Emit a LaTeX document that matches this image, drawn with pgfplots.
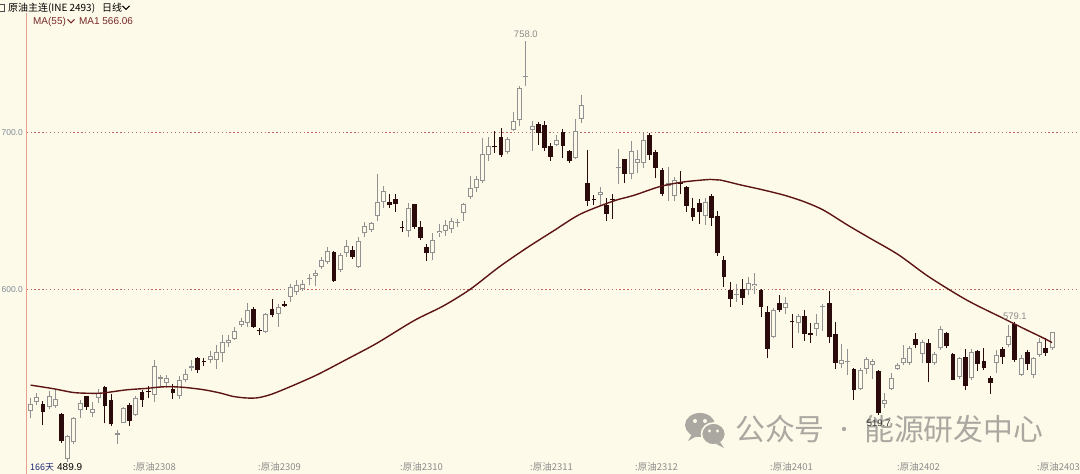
\documentclass[border=0pt]{standalone}
\usepackage{pgfplots}
\pgfplotsset{compat=1.18}
\usepackage{pgfplotstable}
\usepackage{fontspec}
\setmainfont{Liberation Sans}
\newfontfamily\cjk{Noto Sans CJK SC}
\definecolor{bg}{RGB}{254,250,233}
\definecolor{dk}{RGB}{42,10,10}
\definecolor{upc}{RGB}{145,145,145}
\definecolor{ma}{RGB}{92,20,20}
\definecolor{gridc}{RGB}{195,100,100}
\definecolor{axc}{RGB}{232,160,145}
\definecolor{tickc}{RGB}{125,138,150}
\definecolor{lab}{RGB}{140,140,140}
\definecolor{wm}{RGB}{170,168,160}
\definecolor{hdr}{RGB}{120,40,40}
\definecolor{dblue}{RGB}{30,40,120}

\pgfplotstableread{
i o h l c
1 522.8 530.8 518.2 527.0
2 528.3 534.0 526.6 531.5
4 525.1 535.0 523.9 531.9
5 526.0 536.1 524.5 530.2
7 491.8 507.0 489.9 506.6
8 503.0 518.6 501.3 518.2
9 523.0 529.8 518.2 527.7
11 521.3 528.5 518.8 523.9
12 530.8 536.7 527.7 534.0
15 507.2 510.4 501.3 508.3
16 515.0 525.1 514.6 524.5
18 519.9 531.9 519.2 530.8
21 532.9 555.1 528.1 550.9
22 543.2 545.6 537.2 543.8
23 540.3 545.6 537.2 543.5
25 531.9 544.5 530.2 542.4
26 542.4 549.2 540.8 546.2
27 549.8 555.1 547.7 550.9
30 555.1 561.0 553.0 557.8
31 555.1 564.6 549.2 560.4
32 559.7 570.9 554.0 566.7
33 565.6 570.9 563.5 567.7
34 568.4 576.2 567.8 573.6
35 577.2 581.5 576.2 580.0
36 578.3 591.3 576.2 586.7
39 573.0 585.0 572.0 584.2
41 584.6 590.5 576.2 588.8
43 595.2 603.6 592.0 601.5
44 598.3 605.7 596.2 602.5
45 600.0 605.7 598.9 603.2
46 606.3 609.9 602.5 607.4
47 608.4 612.4 602.1 610.6
48 614.1 620.5 613.1 618.8
49 617.7 627.2 616.2 624.7
51 612.0 623.0 611.0 622.0
52 623.0 631.4 620.5 627.9
54 614.1 633.5 613.7 631.0
55 635.7 642.6 633.1 640.1
56 637.8 643.0 636.3 642.2
57 646.8 673.6 643.7 655.9
58 655.9 665.8 652.1 662.7
62 637.4 655.3 633.5 652.1
66 623.0 635.7 618.8 631.6
67 635.9 641.6 633.1 637.4
68 637.0 644.0 634.0 641.0
69 638.4 645.5 636.0 643.6
70 642.3 645.0 640.0 642.9
71 648.9 655.2 643.6 654.2
72 659.0 672.1 657.4 664.7
73 664.3 672.5 662.0 670.0
74 669.0 696.4 668.0 686.3
75 685.8 696.8 682.0 691.1
78 687.5 697.0 686.5 696.0
79 701.7 712.8 701.0 707.4
80 708.0 729.7 703.8 728.0
81 735.0 758.0 729.7 735.6
82 701.3 707.0 688.4 704.2
86 692.2 698.0 691.0 695.3
89 683.7 708.6 682.7 701.0
90 708.6 723.8 705.9 717.1
93 659.9 665.0 653.0 662.2
96 677.1 689.6 666.8 677.7
98 673.6 694.3 670.0 688.0
99 680.6 689.0 674.0 683.3
100 680.6 699.6 677.4 695.4
104 665.8 677.9 656.3 668.0
105 659.5 671.5 656.3 669.4
110 646.8 658.0 641.1 655.9
115 596.3 603.6 592.0 596.9
117 599.4 607.8 596.2 604.0
118 601.9 610.3 597.3 603.2
121 569.8 587.8 568.8 586.7
123 587.8 595.1 584.6 591.0
125 578.7 584.6 571.9 582.9
128 574.5 584.2 570.2 578.3
129 588.9 590.9 573.6 589.5
132 552.3 565.2 549.8 555.1
133 553.7 561.8 545.6 554.3
135 536.5 549.8 535.6 548.7
136 549.1 556.7 546.2 555.7
137 551.9 555.5 542.8 554.2
139 527.2 534.0 524.4 529.7
140 536.5 546.6 536.1 543.5
141 549.4 552.9 548.7 551.9
142 553.0 564.6 551.9 556.1
143 553.0 563.9 551.9 562.9
145 558.9 567.7 552.9 566.7
147 553.4 560.3 551.9 558.9
148 562.4 576.6 561.4 574.5
151 544.1 557.2 542.8 556.1
153 543.5 561.8 542.4 560.3
157 553.0 561.4 546.6 558.2
159 564.6 577.2 563.5 570.3
161 545.6 558.2 544.5 556.1
163 545.6 557.2 543.5 556.1
164 558.2 568.8 557.2 566.7
166 562.4 573.0 561.4 572.6
}\up

\pgfplotstableread{
i o h l c
3 527.0 528.7 513.3 522.0
6 520.7 521.3 502.3 503.4
10 531.9 532.3 523.4 524.9
13 537.8 538.6 514.6 525.6
14 529.8 533.6 512.9 514.0
17 526.6 527.7 512.9 516.1
19 534.4 536.1 525.1 529.8
20 535.2 538.2 530.8 534.6
24 536.7 539.9 530.2 534.0
28 556.1 557.2 546.6 548.8
29 554.1 556.1 551.3 553.5
37 587.3 588.8 575.1 576.2
38 573.9 575.1 570.9 573.3
40 587.3 594.1 582.1 583.5
42 590.9 592.6 588.8 589.4
50 623.6 624.3 604.6 605.3
53 625.1 627.9 619.4 620.5
59 655.9 660.6 651.7 653.8
60 657.8 661.0 649.0 654.2
61 639.5 643.7 636.3 638.8
63 654.2 654.6 638.4 639.5
64 639.9 643.3 631.6 632.7
65 627.2 628.9 617.9 623.0
76 691.0 700.6 686.9 690.4
77 696.8 702.5 684.5 685.8
83 705.3 706.5 692.0 699.6
84 704.4 707.0 688.0 690.1
85 691.1 693.0 682.0 684.4
87 700.2 702.0 683.5 691.6
88 688.0 689.0 680.5 681.6
91 667.9 689.0 653.1 656.3
92 657.7 660.0 654.0 657.1
94 653.8 658.4 643.6 647.9
95 657.7 660.5 644.7 657.1
97 682.7 683.3 667.9 673.6
101 698.5 699.6 682.1 685.4
102 687.3 689.0 671.1 677.0
103 676.0 677.4 659.5 661.0
106 668.6 675.3 660.6 667.3
107 665.2 665.8 649.0 653.2
108 652.1 658.4 643.7 645.8
109 655.3 657.4 641.6 649.0
111 659.5 661.0 640.5 645.4
112 646.4 650.0 621.5 623.0
113 618.4 621.5 601.5 607.8
114 599.8 604.6 588.8 594.1
116 600.0 606.8 589.9 594.5
119 599.8 600.4 582.5 588.8
120 585.7 589.3 556.1 561.8
122 591.0 596.2 585.7 586.7
124 579.7 584.6 562.5 578.9
126 583.1 586.7 567.3 571.5
127 572.4 578.3 566.0 570.9
130 591.6 599.0 566.0 569.4
131 571.5 579.3 549.2 553.0
134 549.1 549.8 529.7 535.6
138 548.1 548.7 519.7 521.3
144 568.1 571.9 562.4 564.6
146 566.0 568.1 540.7 553.4
149 572.0 573.0 562.4 563.9
150 558.9 559.3 542.0 542.4
152 556.7 561.8 535.6 538.6
154 561.0 561.4 547.7 552.3
155 554.4 562.4 548.7 549.8
156 543.5 544.5 533.5 540.3
158 561.8 563.5 552.5 556.7
160 577.8 579.1 554.0 555.1
162 559.9 561.4 548.7 552.5
165 562.9 568.8 557.6 559.3
}\down

\begin{document}
\begin{tikzpicture}[x=1bp,y=1bp]
\fill[bg] (0,0) rectangle (1080,474);
\useasboundingbox (0,0) rectangle (1080,474);
% watermark (under the chart)
\fill[wm] (700,49) ellipse [x radius=15, y radius=12];
\fill[wm] (692,40) -- (688,33) -- (697,38) -- cycle;
\fill[wm, draw=bg, line width=1.6bp] (713.5,40) ellipse [x radius=12, y radius=11];
\fill[wm] (720,32) -- (724,26) -- (716,30) -- cycle;
\fill[bg] (695,53) circle (2); \fill[bg] (705,53) circle (2);
\fill[bg] (709.5,43) circle (1.7); \fill[bg] (717.5,43) circle (1.7);
\node[anchor=west, inner sep=0, text=wm, font=\cjk\fontsize{30}{32}\selectfont] at (735,45) {公众号};
\fill[wm] (844,45) circle (2.2);
\node[anchor=west, inner sep=0, text=wm, font=\cjk\fontsize{30}{32}\selectfont] at (864,45) {能源研发中心};
\begin{axis}[
  at={(43,0)}, anchor=south west, scale only axis,
  width=1052bp, height=461bp,
  xmin=0.354, xmax=170.3, ymin=482.4, ymax=776.0,
  axis x line=none, axis y line*=left,
  y axis line style={draw=axc, line width=1.6bp},
  xtick=\empty,
  ytick={600,700}, yticklabels={600.0,700.0},
  major tick length=0pt,
  yticklabel style={font=\fontsize{8.5}{10}\selectfont, text=tickc, xshift=-0.3bp},
  ymajorgrids,
  major grid style={draw=gridc, line width=0.9bp, dash pattern=on 1.3bp off 2.6bp},
]
% wicks
\addplot[draw=none, mark=none, forget plot, error bars/.cd, y dir=plus, y explicit, error mark=none,
  error bar style={draw=upc, line width=1bp}]
  table[x=i, y=l, y error expr=\thisrow{h}-\thisrow{l}] {\up};
\addplot[draw=none, mark=none, forget plot, error bars/.cd, y dir=plus, y explicit, error mark=none,
  error bar style={draw=dk, line width=1bp}]
  table[x=i, y=l, y error expr=\thisrow{h}-\thisrow{l}] {\down};
% up bodies: outline then hollow inside
\addplot[draw=none, mark=none, forget plot, error bars/.cd, y dir=plus, y explicit, error mark=none,
  error bar style={draw=upc, line width=5bp}]
  table[x=i, y=o, y error expr={max(\thisrow{c}-\thisrow{o},0.7)}] {\up};
\addplot[draw=none, mark=none, forget plot, error bars/.cd, y dir=plus, y explicit, error mark=none,
  error bar style={draw=bg, line width=3bp}]
  table[x=i, y expr=\thisrow{o}+0.64, y error expr={max(\thisrow{c}-\thisrow{o}-1.28,0)}] {\up};
% down bodies
\addplot[draw=none, mark=none, forget plot, error bars/.cd, y dir=plus, y explicit, error mark=none,
  error bar style={draw=dk, line width=4.8bp}]
  table[x=i, y=c, y error expr={max(\thisrow{o}-\thisrow{c},0.7)}] {\down};
% MA(55)
\addplot[ma, line width=1.4bp, smooth, mark=none] coordinates {
(1,539.0) (4.7,536.7) (7.9,534.3) (10.6,533.8) (12.7,534.0) (16.5,536.0) (19.7,536.9)
(21.9,537.8) (23.5,538.0) (25.7,537.6) (28.9,536.1) (31.6,534.0) (33.7,531.8) (35.9,530.8)
(37.8,531.0) (40,533.3) (42.7,537.6) (44.3,540.3) (47.5,546.0) (52.1,555.5) (56.9,565.6)
(62.9,580.0) (67.7,589.5) (72,600) (76.6,614) (81,626) (85.5,637.3) (89.8,647.9)
(95.2,656.3) (98.4,659.8) (102.7,665.5) (106.5,668.4) (110.8,670.0) (112.4,669.6)
(115.7,666.5) (118.9,663.7) (122.6,660.1) (125.9,655.9) (129.1,650.4) (132.9,641.1)
(136.4,633) (141.2,622) (146.1,608) (152.3,593.0) (158.2,581.4) (161.4,575.1)
(164.7,568.8) (166,566.1)};
% extreme value labels
\node[text=lab, anchor=base, yshift=4bp, font=\fontsize{9.5}{11}\selectfont] at (axis cs:81,758) {758.0};
\node[text=lab, anchor=base, yshift=2.5bp, font=\fontsize{9.5}{11}\selectfont] at (axis cs:160,579.1) {579.1};
\node[text=black!80, anchor=north, yshift=-1bp, font=\fontsize{9.5}{11}\selectfont] at (axis cs:138,519.7) {519.7};
\end{axis}
% header
\draw[black!70, line width=0.8bp] (-2,462.5) rectangle (4.5,469.5);
\node[anchor=west, inner sep=0, font=\cjk\fontsize{10}{12}\selectfont] at (8,466) {原油主连(INE 2493)};
\node[anchor=west, inner sep=0, font=\cjk\fontsize{10}{12}\selectfont] at (102,466) {日线};
\draw[black, line width=1.1bp] (122.5,468.2) -- (126,464.7) -- (129.5,468.2);
\node[anchor=west, inner sep=0, text=hdr, font=\fontsize{10}{12}\selectfont] at (33,452.5) {MA(55)};
\draw[hdr, line width=1.1bp] (67.5,454.6) -- (71,451.1) -- (74.5,454.6);
\node[anchor=west, inner sep=0, text=hdr, font=\fontsize{10}{12}\selectfont] at (79,452.5) {MA1 566.06};
% bottom labels
\node[anchor=west, inner sep=0, text=dblue, font=\cjk\fontsize{9}{11}\selectfont] at (30,7) {166天};
\node[anchor=west, inner sep=0, text=black, font=\fontsize{10}{12}\selectfont] at (57,6.5) {489.9};
\foreach \xx/\tt in {133/2308, 258/2309, 400/2310, 530/2311, 635/2312, 770/2401, 897/2402, 1037/2403}
  \node[anchor=west, inner sep=0, text=lab, font=\cjk\fontsize{9.5}{11}\selectfont] at (\xx,7) {:原油\tt};
\end{tikzpicture}
\end{document}
